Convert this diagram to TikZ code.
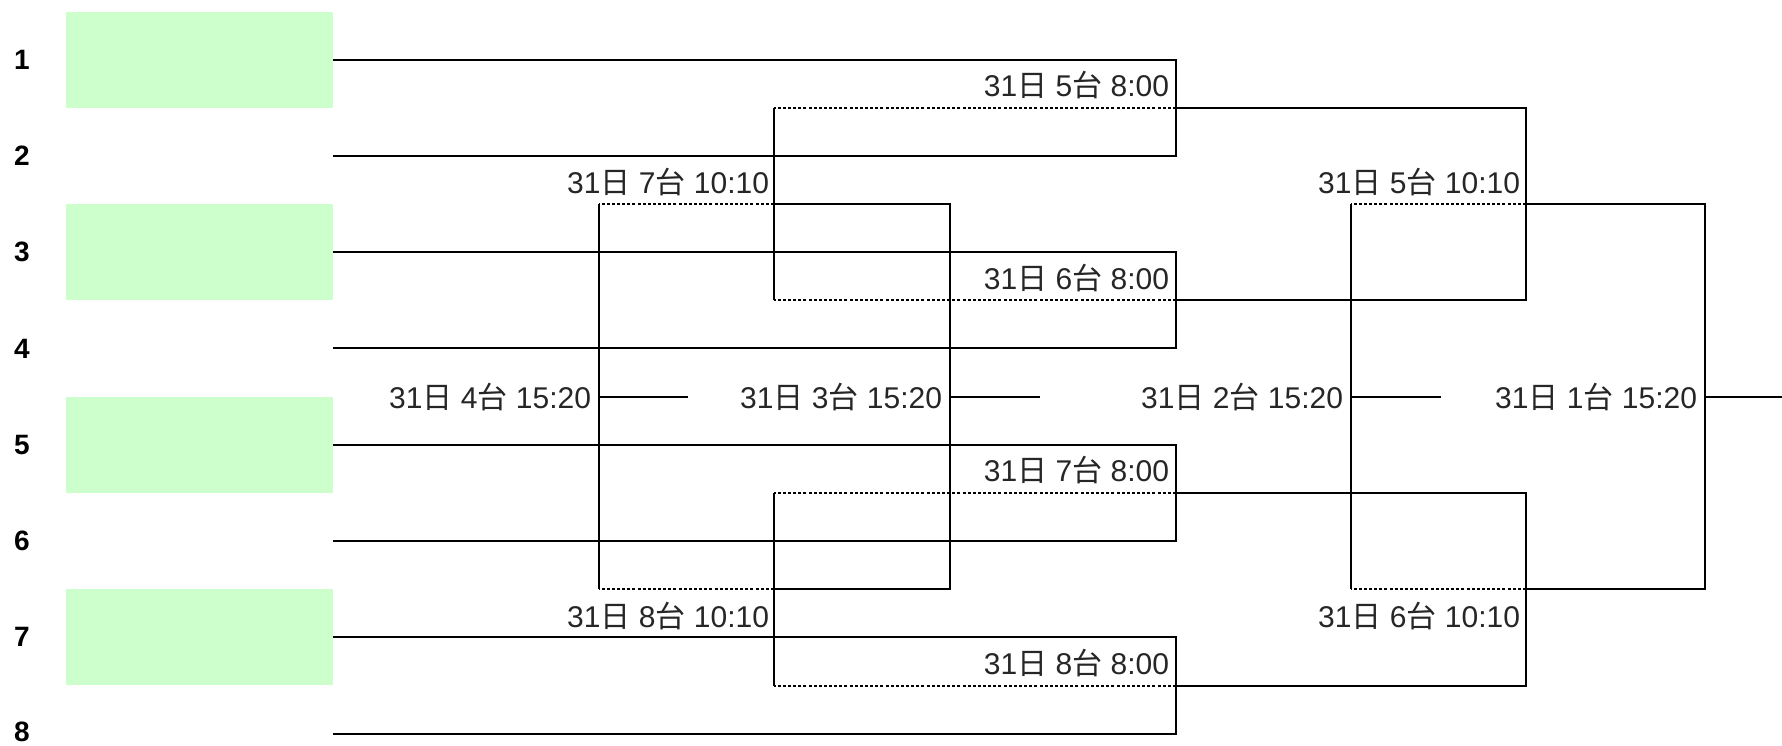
\documentclass[tikz,border=0pt]{standalone}
\usepackage{fontspec}
\setmainfont{Liberation Sans}
\newfontfamily\cjk{Noto Sans CJK JP}
\newcommand{\sched}[2]{31{\cjk 日} #1{\cjk 台} #2}

\tikzset{every picture/.style={line width=1.5pt}}
\tikzset{
  loser/.style={line width=1.5pt, dash pattern=on 2.25pt off 1.6pt},
  seed/.style={fill={rgb, 255:red, 204; green, 255; blue, 204 }},
  lbl/.style={inner sep=0pt, text=black!85, font=\fontsize{22.5}{27}\selectfont},
  num/.style={inner sep=0pt, font=\fontsize{21}{25}\selectfont\bfseries},
}

\begin{document}
\begin{tikzpicture}[x=0.75pt,y=0.75pt,yscale=-1,xscale=1]
\useasboundingbox (0,0) rectangle (1782,746);

%Shape: Rectangle [id:seed1] 
\fill[seed] (66,11.5) rectangle (333,107.5);
%Shape: Rectangle [id:seed3] 
\fill[seed] (66,204) rectangle (333,300);
%Shape: Rectangle [id:seed5] 
\fill[seed] (66,396.7) rectangle (333,492.7);
%Shape: Rectangle [id:seed7] 
\fill[seed] (66,589.3) rectangle (333,685.3);

%Text: entry numbers
\node[num] (n1) at (22,59.5) {1};
\node[num] (n2) at (22,155.8) {2};
\node[num] (n3) at (22,252.1) {3};
\node[num] (n4) at (22,348.4) {4};
\node[num] (n5) at (22,444.7) {5};
\node[num] (n6) at (22,541) {6};
\node[num] (n7) at (22,637.3) {7};
\node[num] (n8) at (22,731.5) {8};

%Points: entry lines
\coordinate (p1) at (333,59.5);
\coordinate (p2) at (333,155.8);
\coordinate (p3) at (333,252.1);
\coordinate (p4) at (333,348.4);
\coordinate (p5) at (333,444.7);
\coordinate (p6) at (333,541);
\coordinate (p7) at (333,637.3);
\coordinate (p8) at (333,733.6);
%Points: joins
\coordinate (q1) at (1176,107.7);
\coordinate (q2) at (1176,300.3);
\coordinate (q3) at (1176,492.9);
\coordinate (q4) at (1176,685.5);
\coordinate (s1) at (1526,204);
\coordinate (s2) at (1526,589.2);
\coordinate (fin) at (1705,396.6);
\coordinate (finend) at (1782,396.6);
\coordinate (b1) at (774,204);
\coordinate (b2) at (774,589.2);
\coordinate (c) at (950,396.6);
\coordinate (cend) at (1040,396.6);
\coordinate (d) at (599,396.6);
\coordinate (dend) at (688,396.6);
\coordinate (g) at (1351,396.6);
\coordinate (gend) at (1441,396.6);

%Straight Lines [id:round1] 
\draw (p1) -| (q1) |- (p2);
\draw (p3) -| (q2) |- (p4);
\draw (p5) -| (q3) |- (p6);
\draw (p7) -| (q4) |- (p8);

%Straight Lines [id:winners] 
\draw (q1) -| (s1) |- (q2);
\draw (q3) -| (s2) |- (q4);
\draw (s1) -| (fin) |- (s2);
\draw (fin) -- (finend);
\draw[loser] (s1) -- (g |- s1);
\draw[loser] (s2) -- (g |- s2);
\draw (g |- s1) -- (g |- s2);
\draw (g) -- (gend);

%Straight Lines [id:losers] 
\draw[loser] (q1) -- (b1 |- q1);
\draw[loser] (q2) -- (b1 |- q2);
\draw (b1 |- q1) -- (b1 |- q2);
\draw[loser] (q3) -- (b2 |- q3);
\draw[loser] (q4) -- (b2 |- q4);
\draw (b2 |- q3) -- (b2 |- q4);
\draw (b1) -| (c) |- (b2);
\draw (c) -- (cend);
\draw[loser] (b1) -- (d |- b1);
\draw[loser] (b2) -- (d |- b2);
\draw (d |- b1) -- (d |- b2);
\draw (d) -- (dend);

%Text: match times
\node[lbl, anchor=base east] (m1a) at (1170,96.7) {\sched{5}{8:00}};
\node[lbl, anchor=base east] (m1b) at (1170,289.3) {\sched{6}{8:00}};
\node[lbl, anchor=base east] (m1c) at (1170,481.9) {\sched{7}{8:00}};
\node[lbl, anchor=base east] (m1d) at (1170,674.5) {\sched{8}{8:00}};
\node[lbl, anchor=base east] (m2a) at (770,193) {\sched{7}{10:10}};
\node[lbl, anchor=base east] (m2b) at (770,627) {\sched{8}{10:10}};
\node[lbl, anchor=base east] (m2c) at (1521,193) {\sched{5}{10:10}};
\node[lbl, anchor=base east] (m2d) at (1521,627) {\sched{6}{10:10}};
\node[lbl, anchor=base east] (m3a) at (592,408) {\sched{4}{15:20}};
\node[lbl, anchor=base east] (m3b) at (943,408) {\sched{3}{15:20}};
\node[lbl, anchor=base east] (m3c) at (1344,408) {\sched{2}{15:20}};
\node[lbl, anchor=base east] (m3d) at (1698,408) {\sched{1}{15:20}};

\end{tikzpicture}
\end{document}
